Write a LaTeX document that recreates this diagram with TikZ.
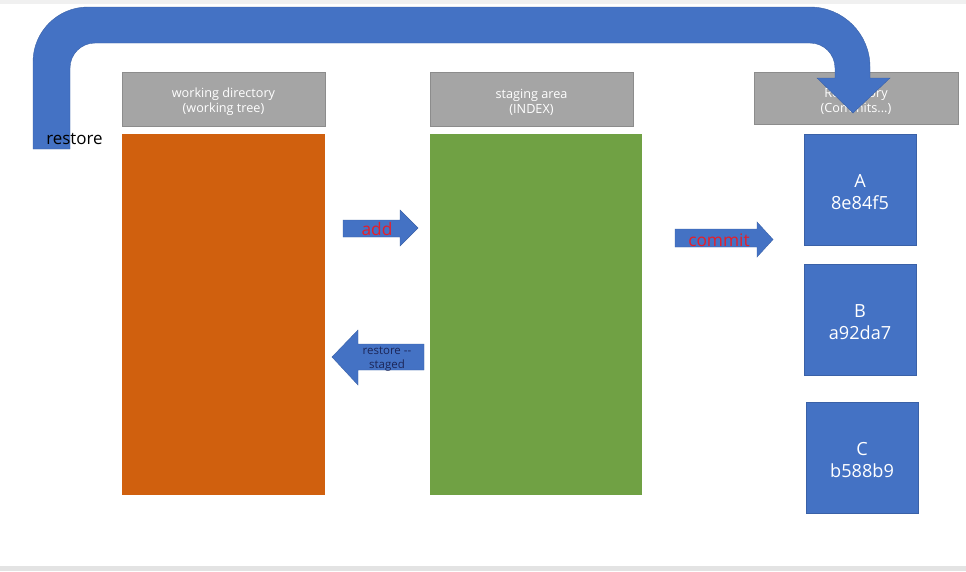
\documentclass[tikz,border=0pt]{standalone}
\usepackage{fontspec}
\setmainfont{Open Sans}
\usepackage{tikz}
\usetikzlibrary{positioning}

\definecolor{headgray}{RGB}{165,165,165}
\definecolor{workorange}{RGB}{208,96,14}
\definecolor{indexgreen}{RGB}{112,161,68}
\definecolor{commitblue}{RGB}{68,114,196}
\definecolor{labelred}{RGB}{232,30,40}
\definecolor{labelnavy}{RGB}{28,38,88}

\tikzset{
  header/.style={fill=headgray,draw=headgray!85!black,line width=0.4pt,
    inner sep=0pt,minimum width=152.25pt,minimum height=40.5pt},
  headtext/.style={text=white,align=center,inner sep=0pt,font=\fontsize{9.5}{11.3}\selectfont},
  commitbox/.style={fill=commitblue,draw=commitblue!85!black,line width=0.4pt,
    inner sep=0pt,minimum width=84pt,minimum height=83.25pt},
  committext/.style={text=white,align=center,inner sep=0pt,font=\fontsize{13.6}{16.5}\selectfont},
  blockarrow/.style={fill=commitblue,draw=commitblue!85!black,line width=0.3pt},
}

\begin{document}
\begin{tikzpicture}[x=0.75pt,y=0.75pt,yscale=-1,xscale=1]
\useasboundingbox (0,0) rectangle (966,571);

%Shape: Rectangle [frame]
\fill[white] (0,0) rectangle (966,571);
\fill[gray!12] (0,0) rectangle (966,4);
\fill[gray!22] (0,566) rectangle (966,571);

%Shape: Rectangle [headers]
\node[header] (wdhead) at (223.5,99) {};
\node[header] (idxhead) at (531.5,99) {};
\node[header,minimum width=153pt,minimum height=39pt] (repohead) at (856,98) {};
% Text Node
\node[headtext] (wdtext) at (223.5,102) {working directory\\(working tree)};
\node[headtext] (idxtext) at (531.5,102) {staging area\\(INDEX)};
\node[headtext] (repotext) at (856,101) {Repository\\(Commits...)};

%Shape: Rectangle [areas]
\node[fill=workorange,inner sep=0pt,minimum width=152.25pt,minimum height=270.75pt] (wdbody) at (223.5,314.5) {};
\node[fill=indexgreen,inner sep=0pt,minimum width=159pt,minimum height=270.75pt] (idxbody) at (536,314.5) {};

%Shape: Rectangle [commits]
\node[commitbox] (commitA) at (860,189.5) {};
\node[commitbox] (commitB) at (860,319.5) {};
\node[commitbox] (commitC) at (862,457.5) {};
% Text Node
\node[committext] (textA) at (860,192.5) {A\\8e84f5};
\node[committext] (textB) at (860,322.5) {B\\a92da7};
\node[committext] (textC) at (862,460.5) {C\\b588b9};

%Shape: Right Arrow [add]
\draw[blockarrow] (343,220) -- (400,220) -- (400,210) -- (418,228) -- (400,246) -- (400,237) -- (343,237) -- cycle;
\node[text=labelred,font=\fontsize{13}{15}\selectfont,inner sep=0pt] (addlbl) at (377,229) {add};

%Shape: Left Arrow [restore --staged]
\draw[blockarrow] (424,344) -- (358,344) -- (358,330) -- (332,357) -- (358,385) -- (358,370) -- (424,370) -- cycle;
\node[text=labelnavy,font=\fontsize{8.6}{10.5}\selectfont,align=center,inner sep=0pt] (stagedlbl) at (387,359) {restore -{}-\\staged};

%Shape: Right Arrow [commit]
\draw[blockarrow] (675,229) -- (757,229) -- (757,222) -- (773,239.5) -- (757,257) -- (757,247) -- (675,247) -- cycle;
\node[text=labelred,font=\fontsize{13}{15}\selectfont,inner sep=0pt] (commitlbl) at (719,240) {commit};

%Shape: U-Turn Arrow [restore]
\draw[blockarrow] (33,149) -- (33,62) arc[start angle=180,end angle=270,radius=55]
  -- (810,7) arc[start angle=270,end angle=360,radius=60]
  -- (870,78) -- (890,78) -- (853,113) -- (817,78) -- (835,78) -- (835,68)
  arc[start angle=0,end angle=-90,radius=25]
  -- (95,43) arc[start angle=270,end angle=180,radius=25]
  -- (70,149) -- cycle;
\node[anchor=west,font=\fontsize{12.7}{15}\selectfont,inner sep=0pt] (restorelbl) at (46,139) {restore};

\end{tikzpicture}
\end{document}
